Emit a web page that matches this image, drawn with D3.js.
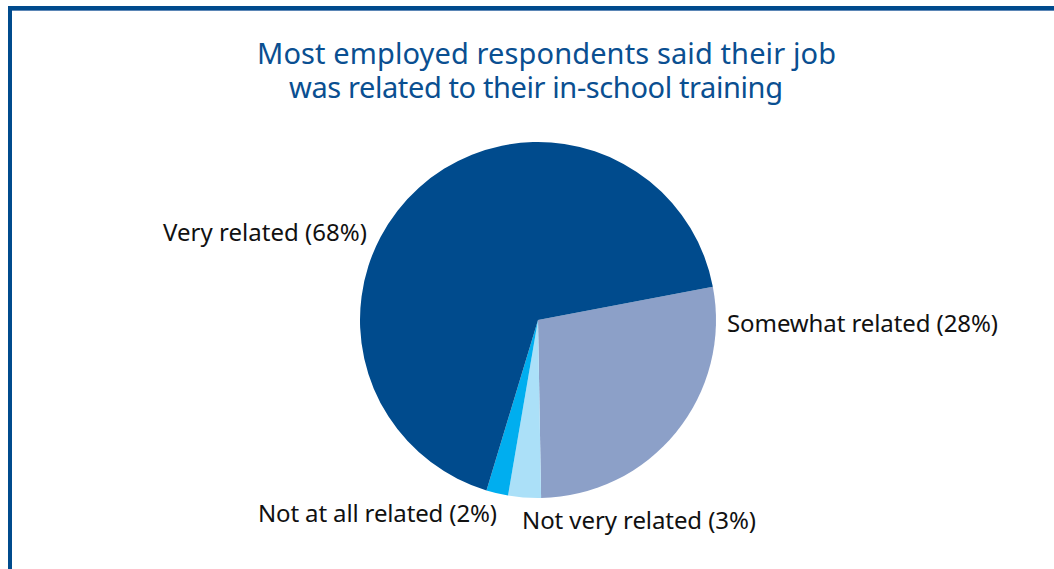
<!DOCTYPE html>
<html>
<head>
<meta charset="utf-8">
<script src="https://cdn.jsdelivr.net/npm/d3@7"></script>
<style>
  html, body { margin: 0; padding: 0; background: #fff; }
  svg { display: block; }
</style>
</head>
<body>
<svg id="chart" width="1054" height="569"></svg>
<script>
// Share of employed respondents by how related their job is to their training
const categories = ["Somewhat related", "Not very related", "Not at all related", "Very related"];
const values = [28, 3, 2, 68];
const colors = ["#8ca0c8", "#abe0f8", "#00aeef", "#004b8d"];
const titleLines = [
  "Most employed respondents said their job",
  "was related to their in-school training"
];
// title line placement: start x, baseline y, rendered width
const titlePos = [
  { x: 257, y: 64, w: 579 },
  { x: 289, y: 98, w: 494 }
];
// label placement: start x, baseline y, rendered width
const labelPos = [
  { x: 727, y: 332, w: 271 },
  { x: 522, y: 529, w: 234 },
  { x: 258, y: 522, w: 239 },
  { x: 163, y: 241, w: 204 }
];

const svg = d3.select("#chart");
const W = 1054, H = 569;
const font = "'Noto Sans', 'Open Sans', sans-serif";

// frame
svg.append("rect")
  .attr("x", 10).attr("y", 8)
  .attr("width", W + 20).attr("height", H + 20)
  .attr("fill", "none")
  .attr("stroke", "#004b8d")
  .attr("stroke-width", 4);
svg.append("line")
  .attr("x1", 12).attr("x2", W).attr("y1", 10.5).attr("y2", 10.5)
  .attr("stroke", "#5b86b6").attr("stroke-width", 1);

// title
svg.selectAll("text.title")
  .data(titleLines)
  .join("text")
  .attr("class", "title")
  .attr("x", (d, i) => titlePos[i].x)
  .attr("y", (d, i) => titlePos[i].y)
  .attr("textLength", (d, i) => titlePos[i].w)
  .attr("lengthAdjust", "spacing")
  .attr("fill", "#0a4f91")
  .style("font-family", font)
  .style("font-size", "29px")
  .text(d => d);

// pie
const cx = 538, cy = 320, r = 178;
const startDeg = 79.2;
const pie = d3.pie().sort(null)
  .startAngle(startDeg * Math.PI / 180)
  .endAngle((startDeg + 360) * Math.PI / 180);
const arc = d3.arc().innerRadius(0).outerRadius(r);
const arcs = pie(values);

const g = svg.append("g").attr("transform", `translate(${cx},${cy})`);
g.selectAll("path")
  .data(arcs)
  .join("path")
  .attr("d", arc)
  .attr("fill", (d, i) => colors[i]);

// labels
svg.selectAll("text.lbl")
  .data(categories)
  .join("text")
  .attr("class", "lbl")
  .attr("x", (d, i) => labelPos[i].x)
  .attr("y", (d, i) => labelPos[i].y)
  .attr("textLength", (d, i) => labelPos[i].w)
  .attr("lengthAdjust", "spacing")
  .attr("fill", "#111")
  .style("font-family", font)
  .style("font-size", "24px")
  .text((d, i) => `${d} (${values[i]}%)`);
</script>
</body>
</html>
